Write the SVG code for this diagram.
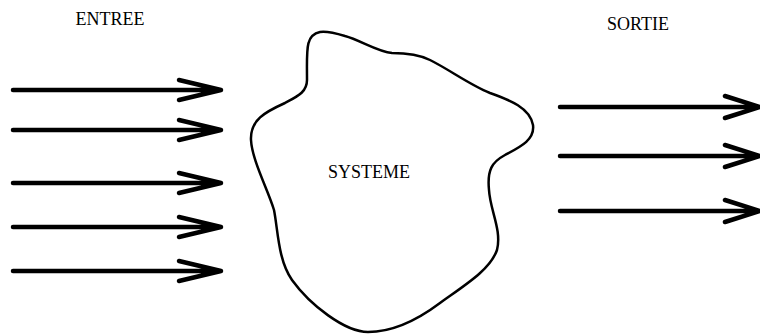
<svg xmlns="http://www.w3.org/2000/svg" width="760" height="334" viewBox="0 0 760 334">
<style>
.lbl{font-family:"Liberation Serif","Times New Roman",serif;font-size:18px;fill:#000}
.arr{fill:none;stroke:#000;stroke-width:4.5;stroke-linecap:round;stroke-linejoin:round}
.blob{fill:#fff;stroke:#000;stroke-width:2.5}
</style>
<rect width="760" height="334" fill="#fff"/>
<text class="lbl" x="110" y="25" text-anchor="middle">ENTREE</text>
<text class="lbl" x="638" y="30" text-anchor="middle">SORTIE</text>
<g id="systeme">
<path class="blob" d="M320,32 C305,35 307,50 307,80 C307,92 298,96 285,103 C265,112 250,120 251,140 C252,160 268,190 274,210 C278,230 278,260 292,280 C310,305 345,332 368,332 C395,332 420,318 440,303 C465,285 490,270 497,250 C502,230 490,210 489,190 C487,170 492,162 505,155 C520,147 535,140 533,125 C530,108 510,100 490,93 C470,85 450,70 430,60 C418,54 405,53 392,53 C378,52 360,40 345,36 C335,33 326,31 320,32 Z"/>
<text class="lbl" x="369" y="178" text-anchor="middle">SYSTEME</text>
</g>
<g id="connectors">
<path class="arr" d="M13,90 H221 M179,80 L221,90 L179,100"/>
<path class="arr" d="M13,130 H221 M179,120 L221,130 L179,140"/>
<path class="arr" d="M13,183 H221 M179,173 L221,183 L179,193"/>
<path class="arr" d="M13,227 H221 M179,217 L221,227 L179,237"/>
<path class="arr" d="M13,271 H221 M179,261 L221,271 L179,281"/>
<path class="arr" d="M560,107 H760 M725,96 L760,107 L725,118"/>
<path class="arr" d="M560,156 H760 M725,145 L760,156 L725,167"/>
<path class="arr" d="M560,211 H760 M725,200 L760,211 L725,222"/>
</g>
</svg>
